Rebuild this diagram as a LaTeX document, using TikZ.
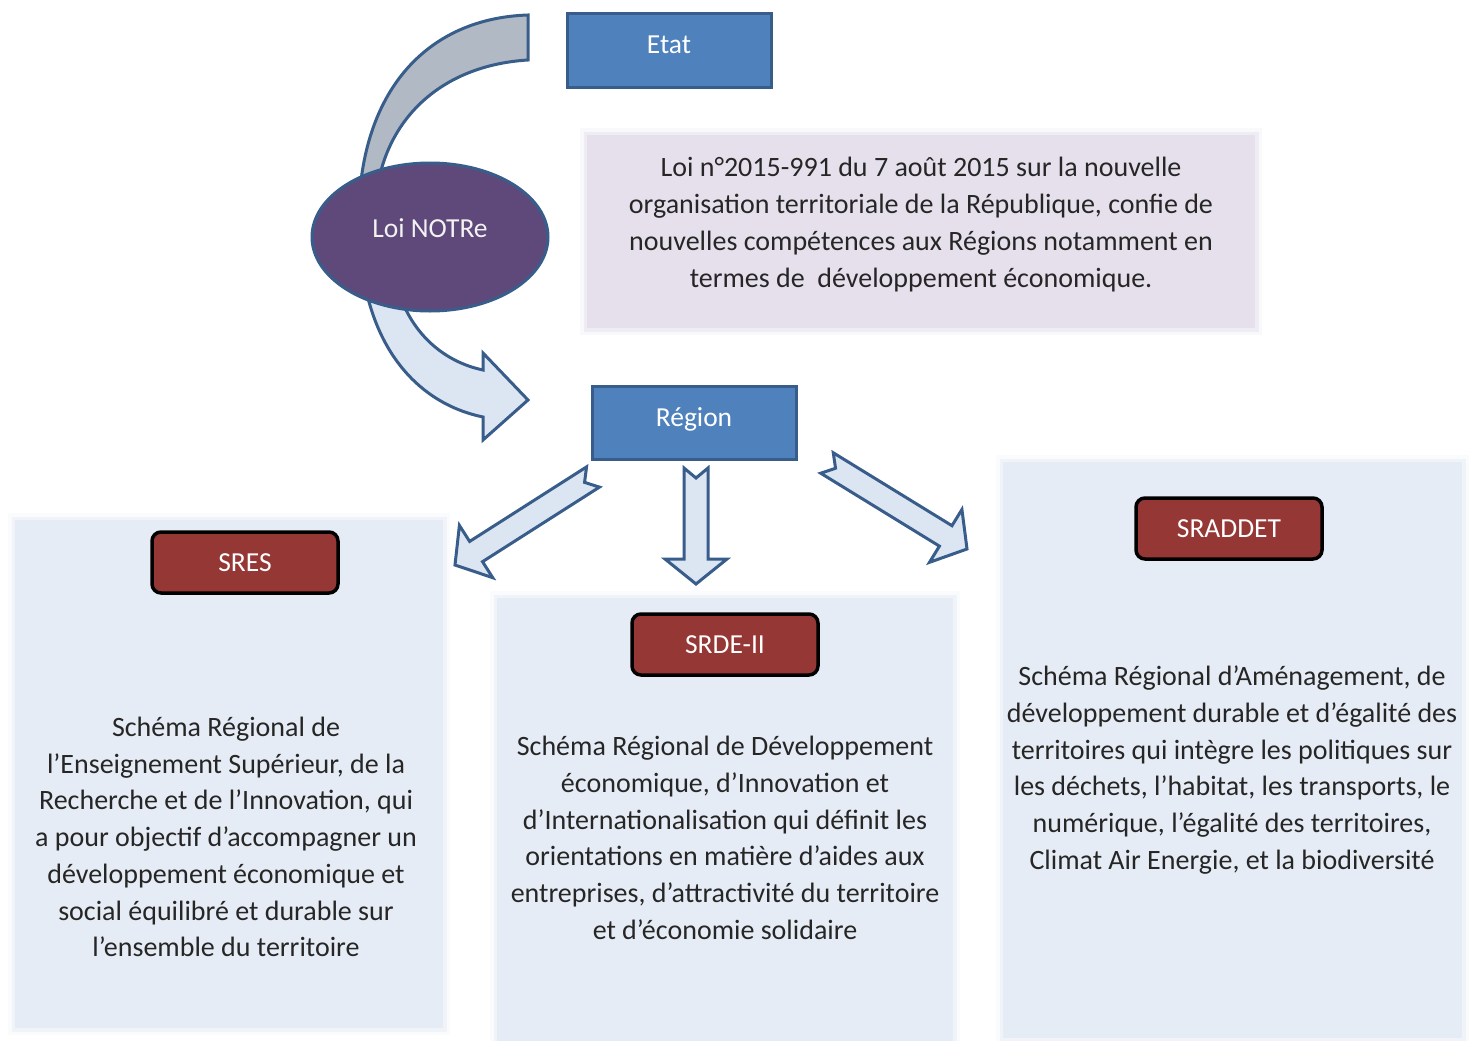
\documentclass[tikz,border=0pt]{standalone}
\usepackage{fontspec}
\setmainfont{Carlito}
\usetikzlibrary{calc,shapes.geometric}

\definecolor{boxblue}{HTML}{4F81BD}
\definecolor{edgeblue}{HTML}{385D8A}
\definecolor{notrepurple}{HTML}{5F497A}
\definecolor{lawbg}{HTML}{E5E0EC}
\definecolor{panelbg}{HTML}{E6ECF5}
\definecolor{schemered}{HTML}{953735}
\definecolor{arrowgray}{HTML}{B0B9C4}
\definecolor{arrowfill}{HTML}{DCE6F2}
\definecolor{bodytext}{HTML}{262626}

\tikzset{
  bodyfont/.style={font=\fontsize{28}{36.7}\selectfont, text=bodytext, align=center},
  labelfont/.style={font=\fontsize{27.5}{34}\selectfont, text=white},
  bluebox/.style={draw=edgeblue, line width=3, fill=boxblue, minimum width=204,
    minimum height=73, labelfont, text height=19, text depth=12},
  schemebox/.style={draw=black, line width=3.5, fill=schemered, rounded corners=9,
    minimum width=186, minimum height=61, labelfont},
  softpanel/.style={fill=#1, inner sep=0,
    preaction={draw=#1, line width=14, opacity=0.2},
    preaction={draw=#1, line width=7, opacity=0.45}},
  bandarrow/.style={draw=edgeblue, line width=3, line join=miter},
  blockarrow/.style={draw=edgeblue, line width=3, fill=arrowfill, line join=miter},
}

% notched block arrow from #1 (tail) to #2 (tip)
\newcommand\notchedarrow[2]{%
  \coordinate (na-h) at ($(#2)!25pt!(#1)$);
  \coordinate (na-n) at ($(#1)!10pt!(#2)$);
  \draw[blockarrow]
    ($(#1)!12pt!90:(#2)$) -- ($(na-h)!12pt!90:(#2)$) -- ($(na-h)!31pt!90:(#2)$)
    -- (#2)
    -- ($(na-h)!31pt!-90:(#2)$) -- ($(na-h)!12pt!-90:(#2)$) -- ($(#1)!12pt!-90:(#2)$)
    -- (na-n) -- cycle;
}

\begin{document}
\begin{tikzpicture}[x=1pt,y=-1pt]
\useasboundingbox (0,0) rectangle (1472,1041);
\fill[white] (0,0) rectangle (1472,1041);

% background panels
\node[softpanel=lawbg, minimum width=668, minimum height=193] (law) at (921,231.5) {};
\node[softpanel=panelbg, minimum width=428, minimum height=508] (sres) at (229,774) {};
\node[softpanel=panelbg, minimum width=456, minimum height=452] (srde) at (725,824) {};
\node[softpanel=panelbg, minimum width=459, minimum height=576] (sraddet) at (1232.5,750) {};

% curved band from Etat down to the law ellipse
\draw[bandarrow, fill=arrowgray]
  (528,15) .. controls (435,18) and (370,80) .. (360,190)
  -- (377,190) .. controls (388,115) and (445,65) .. (528,60) -- cycle;

% curved arrow from the law ellipse to Région
\draw[bandarrow, fill=arrowfill]
  (365,285) .. controls (380,360) and (425,405) .. (483,417)
  -- (483,440) -- (528,400) -- (483,353) -- (483,370)
  .. controls (445,362) and (412,335) .. (398,290) -- cycle;

% state and region
\node[bluebox] (etat) at (669,50.5) {Etat};
\node[bluebox] (region) at (694,423) {Région};

% law ellipse
\node[ellipse, draw=edgeblue, line width=3, fill=notrepurple, minimum width=236,
  minimum height=148, inner sep=0, labelfont, text=white!95!black,
  text height=19, text depth=18] (notre) at (430,237) {Loi NOTRe};

% law text
\node[bodyfont] (lawtext) at (921,224.5) {Loi n°2015-991 du 7 août 2015 sur la nouvelle\\
organisation territoriale de la République, confie de\\
nouvelles compétences aux Régions notamment en\\
termes de\ \ développement économique.};

% block arrows from Région to the three schemes
\coordinate (a1t) at (593,477); \coordinate (a1h) at (455,565);
\coordinate (a2t) at (696,468); \coordinate (a2h) at (696,584);
\coordinate (a3t) at (827,463); \coordinate (a3h) at (967,549);
\notchedarrow{a1t}{a1h}
\notchedarrow{a2t}{a2h}
\notchedarrow{a3t}{a3h}

% scheme labels
\node[schemebox] (sreslab) at (245,562.5) {SRES};
\node[schemebox] (srdelab) at (725,644.5) {SRDE-II};
\node[schemebox] (sraddetlab) at (1229,528.5) {SRADDET};

% scheme descriptions
\node[bodyfont] (srestext) at (226,837) {Schéma Régional de\\
l’Enseignement Supérieur, de la\\
Recherche et de l’Innovation, qui\\
a pour objectif d’accompagner un\\
développement économique et\\
social équilibré et durable sur\\
l’ensemble du territoire};

\node[bodyfont] (srdetext) at (725,838) {Schéma Régional de Développement\\
économique, d’Innovation et\\
d’Internationalisation qui définit les\\
orientations en matière d’aides aux\\
entreprises, d’attractivité du territoire\\
et d’économie solidaire};

\node[bodyfont] (sraddettext) at (1232,770) {Schéma Régional d’Aménagement, de\\
développement durable et d’égalité des\\
territoires qui intègre les politiques sur\\
les déchets, l’habitat, les transports, le\\
numérique, l’égalité des territoires,\\
Climat Air Energie, et la biodiversité};
\end{tikzpicture}
\end{document}
